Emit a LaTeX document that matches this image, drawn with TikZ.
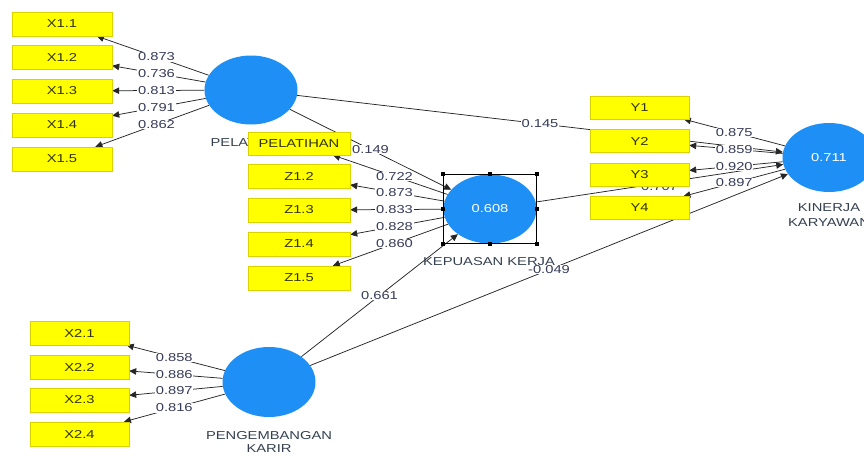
\documentclass[tikz,border=0pt]{standalone}
\usepackage{fontspec}
\setmainfont{Liberation Sans}[FakeStretch=1.28]
\usetikzlibrary{shapes.geometric,arrows.meta,calc}
\pgfdeclarelayer{bg}
\pgfdeclarelayer{lines}
\pgfdeclarelayer{labels}
\pgfsetlayers{bg,lines,labels,main}
\definecolor{boxyellow}{HTML}{FFFF00}
\definecolor{boxedge}{HTML}{D8D200}
\definecolor{boxtxt}{HTML}{33330F}
\definecolor{latblue}{HTML}{1E8FF5}
\definecolor{lbl}{HTML}{363B58}
\definecolor{latlbl}{HTML}{34404F}
\newcommand\pathcoef[4][]{%
  \begin{pgfonlayer}{lines}\draw[conn] (#2) -- (#3);\end{pgfonlayer}%
  \begin{pgfonlayer}{labels}\node[coef,#1] at ($(#2.center)!.5!(#3.center)$) {#4};\end{pgfonlayer}}
\begin{document}
\begin{tikzpicture}[x=1pt,y=-1pt,font=\fontsize{11.5}{13}\selectfont,
  ind/.style={rectangle,fill=boxyellow,draw=boxedge,line width=0.4pt,minimum width=99pt,minimum height=24pt,inner sep=0pt,text=boxtxt},
  lat/.style={ellipse,fill=latblue,minimum width=93pt,minimum height=69pt,inner sep=0pt,text=white},
  conn/.style={draw=black!85,line width=0.75pt,-{Triangle[length=7pt,width=6.5pt]}},
  coef/.style={fill=white,text=lbl,inner sep=0.6pt},
  latname/.style={text=latlbl,align=center,inner sep=0pt},
  handle/.style={fill=black,minimum size=4pt,inner sep=0pt}]
\useasboundingbox (0,0) rectangle (864,455);
\begin{pgfonlayer}{bg}
\fill[white] (0,0) rectangle (864,455);
\end{pgfonlayer}
\clip (0,0) rectangle (864,455);

% latent variable name labels (drawn first so boxes can cover them)
\node[latname] (pelname) at (251,143) {PELATIHAN};
\node[latname] (kepname) at (489,262) {KEPUASAN KERJA};
\node[latname,font=\fontsize{11.5}{15}\selectfont] (kinname) at (829,215.5) {KINERJA\\KARYAWAN};
\node[latname,font=\fontsize{11.5}{13}\selectfont] (pengname) at (269,441.5) {PENGEMBANGAN\\KARIR};

% indicators X1
\node[ind,minimum width=100pt] (x11) at (62,24) {X1.1};
\node[ind,minimum width=100pt] (x12) at (62,57) {X1.2};
\node[ind,minimum width=100pt] (x13) at (62,91) {X1.3};
\node[ind,minimum width=100pt] (x14) at (62,125) {X1.4};
\node[ind,minimum width=100pt] (x15) at (62,159) {X1.5};
% indicators Z
\node[ind,minimum width=102pt,minimum height=23pt] (z11) at (299,143.5) {PELATIHAN};
\node[ind,minimum width=102pt] (z12) at (299,176) {Z1.2};
\node[ind,minimum width=102pt] (z13) at (299,210) {Z1.3};
\node[ind,minimum width=102pt] (z14) at (299,244) {Z1.4};
\node[ind,minimum width=102pt] (z15) at (299,278) {Z1.5};
% indicators Y
\node[ind,minimum height=23pt] (y1) at (639.5,107.5) {Y1};
\node[ind,minimum height=23pt] (y2) at (639.5,141) {Y2};
\node[ind,minimum height=23pt] (y3) at (639.5,175) {Y3};
\node[ind,minimum height=23pt] (y4) at (639.5,208) {Y4};
% indicators X2
\node[ind] (x21) at (79.5,333) {X2.1};
\node[ind] (x22) at (79.5,367) {X2.2};
\node[ind] (x23) at (79.5,400) {X2.3};
\node[ind] (x24) at (79.5,434) {X2.4};

% latent variables
\node[lat] (pel) at (251,90) {};
\node[lat] (kep) at (490,209) {0.608};
\node[lat] (kin) at (829,157.5) {0.711};
\node[lat,minimum height=70pt] (peng) at (269,382) {};

% selection frame
\node[draw=black,line width=0.9pt,minimum width=93pt,minimum height=69pt,inner sep=0pt] (sel) at (490,209) {};
\foreach \p in {north west,north,north east,east,south east,south,south west,west}
  \node[handle] at (sel.\p) {};

% outer loadings
\pathcoef{pel}{x11}{0.873}
\pathcoef{pel}{x12}{0.736}
\pathcoef{pel}{x13}{0.813}
\pathcoef{pel}{x14}{0.791}
\pathcoef{pel}{x15}{0.862}
\pathcoef{kep}{z11}{0.722}
\pathcoef{kep}{z12}{0.873}
\pathcoef{kep}{z13}{0.833}
\pathcoef{kep}{z14}{0.828}
\pathcoef{kep}{z15}{0.860}
\pathcoef{kin}{y1}{0.875}
\pathcoef{kin}{y2}{0.859}
\pathcoef{kin}{y3}{0.920}
\pathcoef{kin}{y4}{0.897}
\pathcoef{peng}{x21}{0.858}
\pathcoef{peng}{x22}{0.886}
\pathcoef{peng}{x23}{0.897}
\pathcoef{peng}{x24}{0.816}
% path coefficients
\pathcoef{pel}{kin}{0.145}
\pathcoef{pel}{kep}{0.149}
\pathcoef[yshift=-3pt]{kep}{kin}{0.707}
\pathcoef{peng}{kep}{0.661}
\pathcoef{peng}{kin}{-0.049}
\end{tikzpicture}
\end{document}
